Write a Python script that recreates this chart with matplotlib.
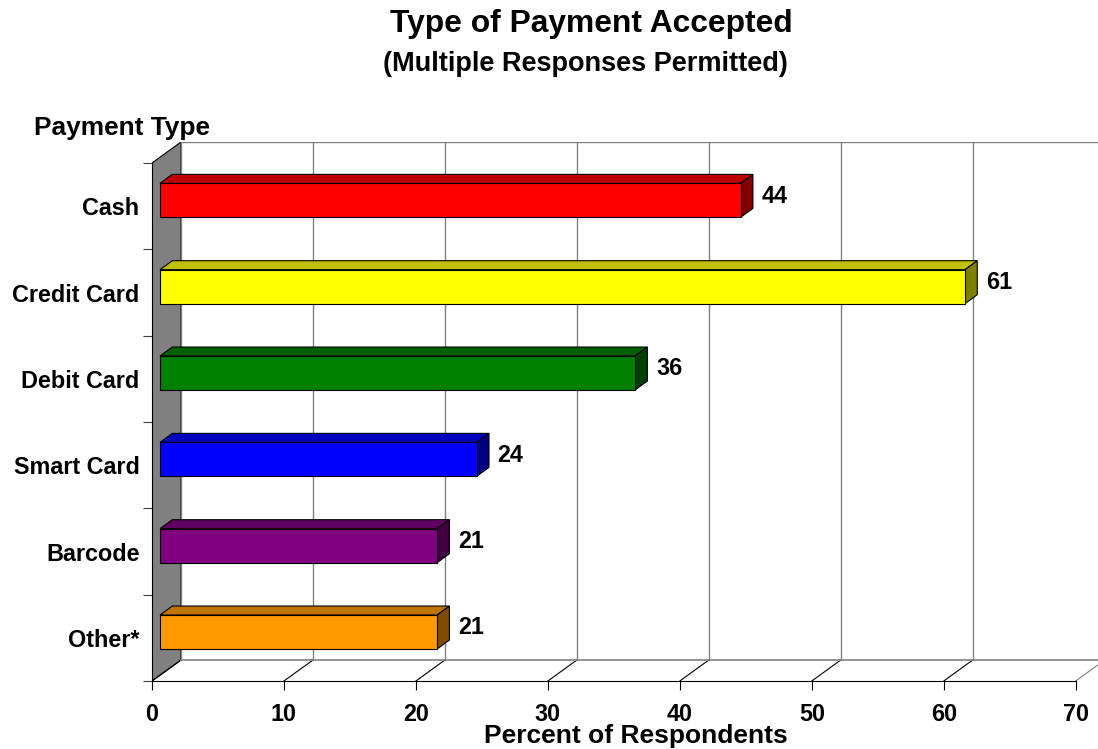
import matplotlib
matplotlib.use("Agg")
import matplotlib.pyplot as plt
from matplotlib.patches import Polygon, Rectangle

plt.rcParams['font.family'] = ['Liberation Sans', 'DejaVu Sans']
plt.rcParams['font.weight'] = 'bold'

# ========== Data ==========
categories = ["Other*", "Barcode", "Smart Card", "Debit Card", "Credit Card", "Cash"]
values = [21, 21, 24, 36, 61, 44]
front_colors = ["#FF9900", "#800080", "#0000FF", "#008000", "#FFFF00", "#FF0000"]
top_colors = ["#C07300", "#600060", "#0000C0", "#006000", "#C0C000", "#C00000"]
side_colors = ["#804C00", "#400040", "#000080", "#004000", "#808000", "#800000"]
x_ticks = [0, 10, 20, 30, 40, 50, 60, 70]

title = "Type of Payment Accepted"
subtitle = "(Multiple Responses Permitted)"
y_title = "Payment Type"
x_title = "Percent of Respondents"

# ========== Geometry (in data units) ==========
W, H = 1098, 749
px_x = 13.196          # pixels per percent
px_y = 86.333          # pixels per category slot
depth_x = 29 / px_x    # wall depth, x
depth_y = 21 / px_y    # wall depth, y
bar_off_x = 8 / px_x
bar_off_y = 5.8 / px_y
bar_dx = 12.3 / px_x
bar_dy = 9 / px_y
bar_half = 17 / px_y

fig = plt.figure(figsize=(W / 100, H / 100), dpi=100)
ax = fig.add_axes([152 / W, (H - 681) / H, (W - 152) / W, 539 / H])
ax.set_xlim(0, (W - 152) / px_x)
ax.set_ylim(0, 539 / px_y)

n = len(categories)
grid_c = "#808080"

# left wall
ax.add_patch(Polygon([(0, 0), (depth_x, depth_y), (depth_x, n + depth_y), (0, n)],
                     closed=True, facecolor="#808080", edgecolor="black", lw=0.8, zorder=1))

# back wall grid
for t in x_ticks:
    ax.plot([t + depth_x, t + depth_x], [depth_y, n + depth_y], color=grid_c, lw=1, zorder=1.5)
    ax.plot([t, t + depth_x], [0, depth_y], color="black" if t < 70 else grid_c, lw=0.8, zorder=1.5)
ax.plot([depth_x, 80], [n + depth_y, n + depth_y], color=grid_c, lw=1, zorder=1.5)
ax.plot([depth_x, 80], [depth_y, depth_y], color=grid_c, lw=1.2, zorder=1.5)

# bars
for i, (v, fc, tc, sc) in enumerate(zip(values, front_colors, top_colors, side_colors)):
    x0 = bar_off_x
    x1 = bar_off_x + v
    yc = i + 0.5 + bar_off_y
    y0, y1 = yc - bar_half, yc + bar_half
    ax.add_patch(Polygon([(x0, y1), (x1, y1), (x1 + bar_dx, y1 + bar_dy), (x0 + bar_dx, y1 + bar_dy)],
                         closed=True, facecolor=tc, edgecolor="black", lw=0.8, zorder=3))
    ax.add_patch(Polygon([(x1, y0), (x1, y1), (x1 + bar_dx, y1 + bar_dy), (x1 + bar_dx, y0 + bar_dy)],
                         closed=True, facecolor=sc, edgecolor="black", lw=0.8, zorder=3))
    ax.add_patch(Rectangle((x0, y0), v, 2 * bar_half, facecolor=fc, edgecolor="black", lw=0.8, zorder=4))
    ax.text(v + depth_x, yc + 0.05, str(v), ha="left", va="center", fontsize=16.8,
            fontweight="bold", zorder=5)

# axes / ticks
for s in ["top", "right"]:
    ax.spines[s].set_visible(False)
ax.spines["left"].set_bounds(0, n)
ax.spines["bottom"].set_bounds(0, 70)
ax.spines["left"].set_linewidth(0.8)
ax.spines["bottom"].set_linewidth(0.8)
ax.set_xticks(x_ticks)
ax.set_xticklabels([str(t) for t in x_ticks])
ax.tick_params(axis="x", length=6.5, width=0.8, pad=9, labelsize=16.8)
ax.set_yticks(range(n + 1))
ax.set_yticklabels([""] * (n + 1))
ax.tick_params(axis="y", which="major", length=6.5, width=0.8, color="#404040")
ax.set_yticks([i + 0.5 for i in range(n)], minor=True)
ax.set_yticklabels(categories, minor=True)
ax.tick_params(axis="y", which="minor", length=0, pad=9, labelsize=16.8)
for lab in ax.get_xticklabels() + ax.get_yticklabels(minor=True):
    lab.set_fontweight("bold")

# titles
fig.text(591 / W, 1 - 32 / H, title, ha="center", va="baseline", fontsize=22.9, fontweight="bold")
fig.text(585 / W, 1 - 71 / H, subtitle, ha="center", va="baseline", fontsize=19.5, fontweight="bold")
fig.text(34 / W, 1 - 135 / H, y_title, ha="left", va="baseline", fontsize=18.9, fontweight="bold")
fig.text(636 / W, 1 - 743 / H, x_title, ha="center", va="baseline", fontsize=19, fontweight="bold")

plt.savefig("out.png", dpi=100)
